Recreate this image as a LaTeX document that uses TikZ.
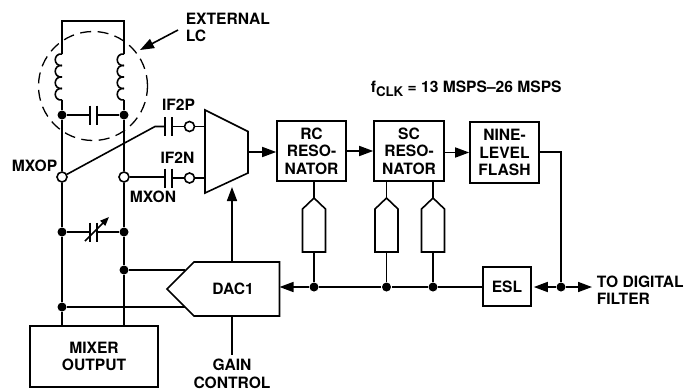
\documentclass[tikz,border=0pt]{standalone}
\usepackage{fontspec}
\setmainfont{TeX Gyre Heros}
\usetikzlibrary{arrows.meta}

\begin{document}
\begin{tikzpicture}[x=1pt, y=-1pt, line width=1.6pt, line join=miter]
  \tikzset{
  arrow_in/.style={-{Triangle[length=14pt,width=10pt]}},
  txt/.style={font=\fontsize{15.6}{17.4}\selectfont\bfseries, inner sep=0pt, align=center},
  block/.style={draw, txt, minimum width=#1, minimum height=60pt},
  dot/.style={circle, fill=black, draw=none, minimum size=9pt, inner sep=0pt},
  ring/.style={circle, fill=white, draw, minimum size=10pt, inner sep=0pt},
  coil_pic/.pic={
    % scallops, top to bottom
    \foreach \n in {0,...,3} {
      \draw (0,{\n*11.5}) .. controls (-9,{\n*11.5-1}) and (-9,{\n*11.5+12.5}) .. (0,{\n*11.5+11.5});
    }
    \coordinate (-top) at (0,0);
    \coordinate (-bottom) at (0,46);
  },
  cap_pic/.pic={
    % plates
    \draw (-3.7,-9.5) -- (-3.7,9.5);
    \draw (3.7,-9.5) -- (3.7,9.5);
    \coordinate (-left) at (-3.7,0);
    \coordinate (-right) at (3.7,0);
  },
  stub_pic/.pic={
    % pointed body
    \draw (0,-27) -- (11.5,-16) -- (11.5,27) -- (-11.5,27) -- (-11.5,-16) -- cycle;
    \coordinate (-top) at (0,-27);
    \coordinate (-bottom) at (0,27);
  }
}
  \useasboundingbox (0,0) rectangle (684,391);

  % blocks
  \node[block=128pt, minimum height=61pt] (mixer) at (94,356.5) {MIXER\\OUTPUT};
  \node[block=69pt] (rc) at (311.5,151) {RC\\RESO-\\NATOR};
  \node[block=70pt] (sc) at (409,151) {SC\\RESO-\\NATOR};
  \node[block=69pt, minimum height=61pt] (flash) at (504.5,152.5) {NINE-\\LEVEL\\FLASH};
  \node[block=48pt, minimum height=39pt] (esl) at (507,286.5) {ESL};

  % mux
  \coordinate (mux_a) at (205,110);
  \coordinate (mux_b) at (248,131.5);
  \coordinate (mux_c) at (248,173);
  \coordinate (mux_d) at (205,193);
  \coordinate (mux_out) at (248,152);
  \coordinate (mux_p) at (205,126);
  \coordinate (mux_n) at (205,178);
  \coordinate (mux_in) at (232,187);
  \draw (mux_a) -- (mux_b) -- (mux_c) -- (mux_d) -- cycle;

  % dac
  \coordinate (dac_tip) at (167,289);
  \coordinate (dac_tl) at (194,262);
  \coordinate (dac_tr) at (279.5,262);
  \coordinate (dac_br) at (279.5,316);
  \coordinate (dac_bl) at (194,316);
  \coordinate (dac_right) at (279.5,287);
  \coordinate (dac_top) at (232,262);
  \coordinate (dac_bottom) at (232,316);
  \coordinate (dac_a) at (185,271);
  \coordinate (dac_b) at (185,307);
  \draw (dac_tip) -- (dac_tl) -- (dac_tr) -- (dac_br) -- (dac_bl) -- cycle;
  \node[txt] (dac1) at (233,289) {DAC1};

  % rails
  \coordinate (top_l) at (62,21);
  \coordinate (top_r) at (124,21);
  \coordinate (mix_l) at (62,326);
  \coordinate (mix_r) at (124,326);
  \pic (coil_l) at (62,54) {coil_pic};
  \pic (coil_r) at (124,54) {coil_pic};
  \node[dot] (lc_l) at (62,115) {};
  \node[dot] (lc_r) at (124,115) {};
  \node[ring] (mxop) at (62,177) {};
  \node[ring] (mxon) at (124,177) {};
  \node[dot] (vc_l) at (62,232) {};
  \node[dot] (vc_r) at (124,232) {};
  \node[dot] (fb_r) at (124,270) {};
  \node[dot] (fb_l) at (62,307) {};
  \draw (coil_l-top) -- (top_l) -- (top_r) -- (coil_r-top);
  \draw (coil_l-bottom) -- (lc_l) -- (mxop) -- (vc_l) -- (fb_l) -- (mix_l);
  \draw (coil_r-bottom) -- (lc_r) -- (mxon) -- (vc_r) -- (fb_r) -- (mix_r);
  \draw (fb_r) -- (fb_r -| dac_a);
  \draw (fb_l) -- (dac_b);

  % tank caps
  \pic (cap_lc) at (93.5,115) {cap_pic};
  \draw (lc_l) -- (cap_lc-left);
  \draw (cap_lc-right) -- (lc_r);
  \pic (cap_v) at (93.5,232) {cap_pic};
  \draw (vc_l) -- (cap_v-left);
  \draw (cap_v-right) -- (vc_r);
  \coordinate (vc_a) at (85,241);
  \coordinate (vc_b) at (109,217);
  \draw[-{Triangle[length=9pt,width=7pt]}] (vc_a) -- (vc_b);

  % external lc
  \draw[line width=1.3pt, dash pattern=on 11pt off 6.5pt] (93,86) circle (54.5pt);

  % if2 inputs
  \pic (cap_p) at (168.5,126.5) {cap_pic};
  \pic (cap_n) at (168.5,178) {cap_pic};
  \coordinate (if2p_a) at (155,126.5);
  \node[ring] (if2p) at (189.5,126.5) {};
  \node[ring] (if2n) at (189.5,178) {};
  \draw (mxop) -- (if2p_a) -- (cap_p-left);
  \draw (cap_p-right) -- (if2p);
  \draw (if2p) -- (if2p -| mux_p);
  \draw (mxon) -- (mxon -| cap_n-left);
  \draw (cap_n-right) -- (if2n);
  \draw (if2n) -- (if2n -| mux_n);

  % forward path
  \draw[arrow_in] (mux_out) -- (mux_out -| rc.west);
  \draw[arrow_in] (rc.east) -- (sc.west);
  \draw[arrow_in] (sc.east |- flash.west) -- (flash.west);
  \coordinate (flash_c) at (561,152);
  \node[dot] (out) at (561,287) {};
  \coordinate (out_end) at (592,287);
  \draw (flash.east |- flash_c) -- (flash_c) -- (out);
  \draw[arrow_in] (out) -- (out_end);
  \draw[arrow_in] (out) -- ([xshift=2pt]esl.east |- out);

  % feedback bus
  \node[dot] (bus_a) at (314,287) {};
  \node[dot] (bus_b) at (386.5,287) {};
  \node[dot] (bus_c) at (433,287) {};
  \draw (esl.west |- bus_c) -- (bus_c) -- (bus_b) -- (bus_a);
  \draw[arrow_in] (bus_a) -- (dac_right);

  % resonator stubs
  \pic (stub_a) at (314,225) {stub_pic};
  \pic (stub_b) at (386.5,225) {stub_pic};
  \pic (stub_c) at (433,225) {stub_pic};
  \draw (stub_a-top) -- (stub_a-top |- rc.south);
  \draw (stub_b-top) -- (stub_b-top |- sc.south);
  \draw (stub_c-top) -- (stub_c-top |- sc.south);
  \draw (stub_a-bottom) -- (bus_a);
  \draw (stub_b-bottom) -- (bus_b);
  \draw (stub_c-bottom) -- (bus_c);

  % dac control
  \coordinate (gain_end) at (232,355);
  \draw[arrow_in] (dac_top) -- (mux_in);
  \draw (dac_bottom) -- (gain_end);

  % labels
  \coordinate (lc_tail) at (178,30);
  \coordinate (lc_head) at (140,50);
  \draw[arrow_in] (lc_tail) -- (lc_head);
  \node[txt, anchor=north west, align=left] (lbl_lc) at (185,12) {EXTERNAL\\LC};
  \node[txt, anchor=east] (lbl_mxop) at (58,166) {MXOP};
  \node[txt, anchor=west] (lbl_mxon) at (129,197) {MXON};
  \node[txt] (lbl_p) at (178.5,105) {IF2P};
  \node[txt] (lbl_n) at (177.5,158) {IF2N};
  \node[txt, anchor=north] (lbl_gain) at (232,358.5) {GAIN\\CONTROL};
  \node[txt, anchor=west, align=left] (lbl_out) at (596,290) {TO DIGITAL\\FILTER};
  \node[txt, anchor=base west] (lbl_clk) at (370,92) {f\raisebox{-4pt}{\fontsize{13.3}{13}\selectfont CLK} = 13 MSPS–26 MSPS};
\end{tikzpicture}
\end{document}
